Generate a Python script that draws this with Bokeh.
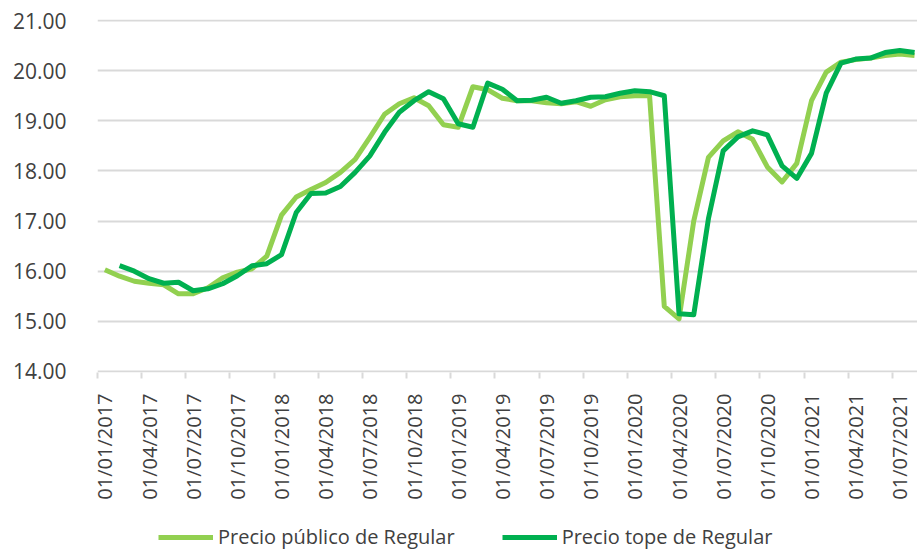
import math
from bokeh.plotting import figure
from bokeh.layouts import column
from bokeh.models import (Range1d, FixedTicker, LinearAxis, CustomJSTickFormatter,
                          NumeralTickFormatter, Legend, LegendItem)
from bokeh.embed import file_html
from bokeh.resources import INLINE

# Monthly series, Jan 2017 .. Aug 2021 (56 months)
tick_labels = ["01/01/2017", "01/04/2017", "01/07/2017", "01/10/2017",
               "01/01/2018", "01/04/2018", "01/07/2018", "01/10/2018",
               "01/01/2019", "01/04/2019", "01/07/2019", "01/10/2019",
               "01/01/2020", "01/04/2020", "01/07/2020", "01/10/2020",
               "01/01/2021", "01/04/2021", "01/07/2021"]

precio_publico = [16.03, 15.90, 15.80, 15.76, 15.73, 15.55, 15.55, 15.67, 15.87, 15.98,
                  16.05, 16.30, 17.12, 17.48, 17.63, 17.77, 17.97, 18.23, 18.67, 19.13,
                  19.34, 19.46, 19.30, 18.92, 18.87, 19.68, 19.62, 19.45, 19.40, 19.40,
                  19.36, 19.34, 19.38, 19.29, 19.42, 19.48, 19.50, 19.50, 15.30, 15.05,
                  17.00, 18.27, 18.60, 18.78, 18.63, 18.08, 17.78, 18.15, 19.40, 19.97,
                  20.17, 20.22, 20.25, 20.30, 20.33, 20.30]

# starts in Feb 2017
precio_tope = [16.11, 16.00, 15.85, 15.76, 15.78, 15.61, 15.65, 15.75, 15.91,
               16.11, 16.15, 16.33, 17.17, 17.55, 17.56, 17.69, 17.97, 18.30, 18.77,
               19.17, 19.40, 19.58, 19.44, 18.94, 18.87, 19.75, 19.63, 19.40, 19.41,
               19.47, 19.35, 19.40, 19.47, 19.48, 19.55, 19.60, 19.58, 19.50, 15.15,
               15.13, 17.05, 18.40, 18.68, 18.80, 18.72, 18.10, 17.85, 18.35, 19.55,
               20.15, 20.23, 20.25, 20.36, 20.40, 20.36]

series_names = ["Precio público de Regular", "Precio tope de Regular"]
series_colors = ["#92D050", "#00B050"]

y_ticks = [14, 15, 16, 17, 18, 19, 20, 21]

n = len(precio_publico)
x_pub = [i + 0.5 for i in range(n)]
x_tope = [i + 1.5 for i in range(len(precio_tope))]
tick_pos = [3 * k for k in range(len(tick_labels))]
label_pos = [3 * k + 0.5 for k in range(len(tick_labels))]

FONT = "Open Sans"
TXT = "#404040"
GRID = "#d9d9d9"

p = figure(width=917, height=515, x_range=Range1d(0, 55.7), y_range=Range1d(13.98, 21.02),
           output_backend="svg", toolbar_location=None,
           min_border_left=97, min_border_right=0, min_border_top=19, min_border_bottom=143)
p.outline_line_color = None
p.background_fill_color = "white"
p.border_fill_color = "white"

# y axis
p.yaxis.ticker = FixedTicker(ticks=y_ticks)
p.yaxis.formatter = NumeralTickFormatter(format="0.00")
p.yaxis.axis_line_color = None
p.yaxis.major_tick_line_color = None
p.yaxis.minor_tick_line_color = None
p.yaxis.major_label_standoff = 25
p.yaxis.major_label_text_font = FONT
p.yaxis.major_label_text_font_size = "21px"
p.yaxis.major_label_text_color = TXT

p.ygrid.ticker = FixedTicker(ticks=y_ticks)
p.ygrid.grid_line_color = GRID
p.ygrid.grid_line_width = 2
p.xgrid.grid_line_color = None

# x axis 1: tick marks at category boundaries
ax1 = p.xaxis[0]
ax1.ticker = FixedTicker(ticks=tick_pos)
ax1.formatter = CustomJSTickFormatter(code="return ''")
ax1.major_label_text_font_size = "0px"
ax1.major_label_standoff = 0
ax1.axis_line_color = None
ax1.major_tick_line_color = GRID
ax1.major_tick_line_width = 2
ax1.major_tick_out = 6
ax1.major_tick_in = 0
ax1.minor_tick_line_color = None

# x axis 2: labels centred on categories
ax2 = LinearAxis(ticker=FixedTicker(ticks=label_pos),
                 formatter=CustomJSTickFormatter(args=dict(labels=tick_labels),
                                                 code="return labels[Math.round((tick - 0.5) / 3)] || ''"))
ax2.axis_line_color = None
ax2.major_tick_line_color = None
ax2.minor_tick_line_color = None
ax2.major_label_orientation = math.pi / 2
ax2.major_label_standoff = 9
ax2.major_label_text_font = FONT
ax2.major_label_text_font_size = "20px"
ax2.major_label_text_color = TXT
p.add_layout(ax2, "below")

r1 = p.line(x_pub, precio_publico, line_color=series_colors[0], line_width=5, line_join="round")
r2 = p.line(x_tope, precio_tope, line_color=series_colors[1], line_width=5, line_join="round")

# legend strip (its frame is aligned with the chart frame by the column layout)
pl = figure(width=917, height=35, x_range=Range1d(0, 1), y_range=Range1d(0, 1),
            output_backend="svg", toolbar_location=None,
            x_axis_location=None, y_axis_location=None,
            min_border_left=0, min_border_right=0, min_border_top=0, min_border_bottom=0)
pl.outline_line_color = None
pl.grid.grid_line_color = None
pl.background_fill_color = "white"
pl.border_fill_color = "white"
l1 = pl.line(x=[-10, -9], y=[-10, -10], line_color=series_colors[0], line_width=5)
l2 = pl.line(x=[-10, -9], y=[-10, -10], line_color=series_colors[1], line_width=5)
legend = Legend(items=[LegendItem(label=series_names[0], renderers=[l1]),
                       LegendItem(label=series_names[1], renderers=[l2])],
                orientation="horizontal", location=(61, 0),
                glyph_width=55, glyph_height=20, label_standoff=5, spacing=47,
                padding=0, margin=0, border_line_color=None, background_fill_alpha=0,
                label_text_font=FONT, label_text_font_size="20px", label_text_color=TXT)
pl.add_layout(legend)

open("out.html", "w").write(file_html(column(p, pl, spacing=0), INLINE))
